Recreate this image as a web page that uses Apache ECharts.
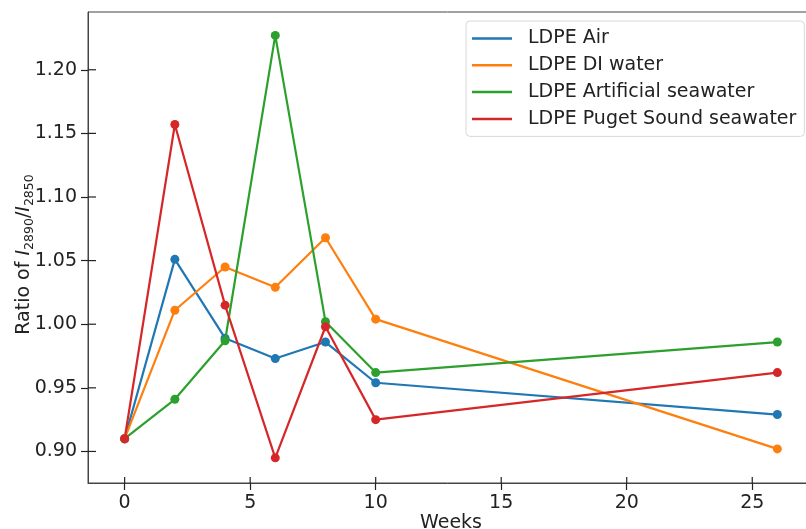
<!DOCTYPE html>
<html>
<head>
<meta charset="utf-8">
<script src="https://cdn.jsdelivr.net/npm/echarts@6/dist/echarts.min.js"></script>
<style>html,body{margin:0;padding:0;background:#fff}#c{width:806px;height:529px}</style>
</head>
<body>
<div id="c"></div>
<script>
var weeks = [0, 2, 4, 6, 8, 10, 26];
var seriesNames = ['LDPE Air', 'LDPE DI water', 'LDPE Artificial seawater', 'LDPE Puget Sound seawater'];
var ldpeAir = [0.910, 1.051, 0.989, 0.973, 0.986, 0.954, 0.929];
var ldpeDI = [0.910, 1.011, 1.045, 1.029, 1.068, 1.004, 0.902];
var ldpeArtificial = [0.910, 0.941, 0.987, 1.227, 1.002, 0.962, 0.986];
var ldpePuget = [0.910, 1.157, 1.015, 0.895, 0.998, 0.925, 0.962];
var xTicks = [0, 5, 10, 15, 20, 25];
var yTicks = [0.90, 0.95, 1.00, 1.05, 1.10, 1.15, 1.20];
var colors = ['#1f77b4', '#ff7f0e', '#2ca02c', '#d62728'];

var allData = [ldpeAir, ldpeDI, ldpeArtificial, ldpePuget];
var font = 'DejaVu Sans';
var X_MIN = -1.46, X_MAX = 27.46, Y_MIN = 0.8752, Y_MAX = 1.2454;
var tickStyle = { color: '#222', width: 1.2 };

function pairs(vals) { return weeks.map(function (w, i) { return [w, vals[i]]; }); }

var chart = echarts.init(document.getElementById('c'), null, { renderer: 'canvas' });
chart.setOption({
  animation: false,
  backgroundColor: '#ffffff',
  textStyle: { fontFamily: font },
  grid: { left: 88, right: -8, top: 12, bottom: 46, outerBoundsMode: 'none', containLabel: false,
    show: true, borderColor: '#444', borderWidth: 1, backgroundColor: 'transparent' },
  legend: {
    left: 466, top: 21,
    orient: 'vertical',
    data: seriesNames,
    icon: 'rect',
    itemWidth: 40, itemHeight: 2.5,
    itemGap: 7.8,
    padding: [8, 8, 8, 6],
    backgroundColor: '#fff',
    borderColor: '#d8d8d8', borderWidth: 1, borderRadius: 4,
    textStyle: { fontFamily: font, fontSize: 19, color: '#222', padding: [0, 0, 0, 11], lineHeight: 19 }
  },
  xAxis: {
    type: 'value', min: X_MIN, max: X_MAX,
    name: 'Weeks', nameLocation: 'middle', nameGap: 31, nameMoveOverlap: false,
    nameTextStyle: { fontFamily: font, fontSize: 19, color: '#222' },
    axisLine: { show: true, onZero: false, lineStyle: { color: '#444', width: 1 } },
    axisTick: { show: true, customValues: xTicks, length: 7, inside: false, lineStyle: tickStyle },
    axisLabel: { customValues: xTicks, fontFamily: font, fontSize: 19, color: '#222', margin: 11 },
    splitLine: { show: false }
  },
  yAxis: {
    type: 'value', min: Y_MIN, max: Y_MAX,
    name: 'Ratio of {i|I}{s|2890}/{i|I}{s|2850}', nameLocation: 'middle', nameGap: 52, nameRotate: 90,
    nameMoveOverlap: false,
    nameTextStyle: {
      fontFamily: font, fontSize: 19, color: '#222', lineHeight: 23, padding: [0, 14, 0, 0],
      rich: {
        i: { fontFamily: font, fontSize: 19, fontStyle: 'italic', color: '#222', lineHeight: 23 },
        s: { fontFamily: font, fontSize: 12.5, color: '#222', lineHeight: 13, verticalAlign: 'bottom' }
      }
    },
    axisLine: { show: true, onZero: false, lineStyle: { color: '#444', width: 1 } },
    axisTick: { show: true, customValues: yTicks, length: 7, inside: false, lineStyle: tickStyle },
    axisLabel: { customValues: yTicks, fontFamily: font, fontSize: 19, color: '#222', margin: 11,
      formatter: function (v) { return v.toFixed(2); } },
    splitLine: { show: false }
  },
  series: seriesNames.map(function (n, k) {
    return {
      name: n, type: 'line', data: pairs(allData[k]),
      symbol: 'circle', symbolSize: 9, showSymbol: true,
      lineStyle: { color: colors[k], width: 2.2 },
      itemStyle: { color: colors[k] },
      emphasis: { disabled: true },
      z: 2 + k
    };
  })
});

// inner halves of the matplotlib "inout" ticks, placed through the grid's scales
var inner = [];
xTicks.forEach(function (t) {
  var p = chart.convertToPixel({ gridIndex: 0 }, [t, Y_MIN]);
  inner.push({ type: 'line', silent: true, z: 100,
    shape: { x1: p[0], y1: p[1], x2: p[0], y2: p[1] - 6 },
    style: { stroke: '#222', lineWidth: 1.2 } });
});
yTicks.forEach(function (t) {
  var p = chart.convertToPixel({ gridIndex: 0 }, [X_MIN, t]);
  inner.push({ type: 'line', silent: true, z: 100,
    shape: { x1: p[0], y1: p[1], x2: p[0] + 8, y2: p[1] },
    style: { stroke: '#222', lineWidth: 1.2 } });
});
chart.setOption({ graphic: { elements: inner } });
</script>
</body>
</html>
